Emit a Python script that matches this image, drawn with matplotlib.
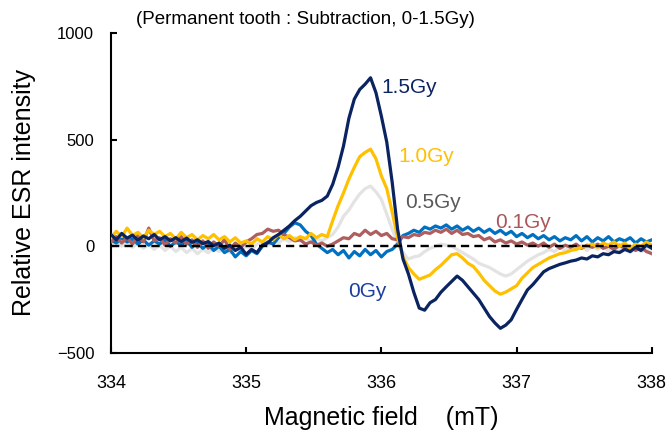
import numpy as np
import matplotlib
matplotlib.use("Agg")
import matplotlib.pyplot as plt

plt.rcParams['font.family'] = ['Liberation Sans', 'DejaVu Sans']

# Magnetic field sampling grid (mT), 0.04 mT steps
field_start, field_stop, n_points = 334.0, 338.0, 101
field = np.linspace(field_start, field_stop, n_points)

# Relative ESR intensity
gy_1_5 = [55, 30, 60, 38, 52, 28, 48, 35, 55, 30,
          45, 25, 40, 22, 38, 18, 30, 12, 22, 2,
          15, -10, 5, -20, -5, -38, -15, -30, 5, 15,
          40, 55, 75, 95, 120, 140, 165, 190, 205, 215,
          235, 290, 370, 470, 600, 690, 735, 760, 790, 720,
          610, 488, 300, 80, -60, -130, -216, -290, -300, -265,
          -250, -216, -190, -165, -140, -160, -190, -220, -250, -290,
          -330, -360, -385, -370, -345, -296, -250, -205, -180, -150,
          -120, -105, -95, -85, -78, -70, -65, -55, -60, -45,
          -50, -35, -40, -25, -30, -15, -25, -5, -20, 5, -10]

gy_1_0 = [40, 70, 45, 85, 50, 65, 40, 75, 55, 70,
          45, 60, 35, 65, 40, 55, 30, 50, 35, 55,
          30, 45, 20, 40, 15, 25, 10, 35, 20, 45,
          30, 55, 35, 50, 30, 45, 35, 60, 40, 55,
          45, 120, 190, 250, 315, 370, 420, 440, 455, 410,
          330, 270, 160, 40, -50, -100, -130, -155, -145, -135,
          -110, -90, -65, -40, -35, -55, -80, -95, -125, -160,
          -185, -210, -225, -215, -200, -185, -150, -125, -100, -85,
          -70, -55, -45, -35, -30, -20, -15, -5, 0, 10,
          -5, 15, 5, 20, 0, 15, -10, 10, 0, 20, 5]

gy_0_5 = [10, 25, 0, 20, -5, 15, -10, 10, -15, 5,
          -20, 0, -25, -5, -30, -10, -35, -15, -30, -10,
          -25, -5, -30, -10, -20, 0, -15, 10, 20, 5,
          30, 15, 35, 20, 40, 25, 40, 20, 35, 25,
          40, 55, 90, 140, 170, 210, 245, 270, 282, 255,
          220, 150, 80, 10, -30, -60, -50, -45, -25, -10,
          0, 10, 5, 0, -15, -30, -45, -60, -80, -90,
          -100, -115, -130, -140, -130, -110, -90, -70, -55, -40,
          -30, -15, -25, -5, -20, 0, -15, 5, -20, 0,
          -15, 5, -25, -5, -20, 0, -30, -10, -25, -15, -35]

gy_0_1 = [20, 45, 15, 40, 10, 50, 20, 85, 25, 40,
          5, 35, 15, 45, 10, 30, -5, 25, -10, 20,
          0, 30, -15, 15, -5, 20, 35, 55, 60, 80,
          70, 75, 55, 40, 25, 30, 10, 20, 5, 15,
          0, 10, 25, 40, 35, 60, 50, 75, 55, 70,
          50, 60, 35, 30, 45, 40, 55, 50, 65, 60,
          75, 65, 80, 60, 75, 55, 60, 45, 50, 30,
          40, 20, 30, 15, 25, 10, 20, 5, 15, 0,
          15, -5, 10, -10, 5, -5, 10, -10, 5, -5,
          10, -10, 0, -15, 5, -10, 0, -20, -5, -25, -35]

gy_0 = [30, 15, 40, 20, 35, 10, 30, 5, 25, 10,
        30, 0, 20, 5, 25, -5, 15, -10, 10, -20,
        0, -30, -15, -50, -25, -45, -20, -35, 0, 20,
        10, 40, 60, 90, 110, 100, 70, 50, 10, -10,
        -30, -15, -40, -20, -55, -25, -45, -15, -40, -20,
        -50, -25, -15, 10, 50, 60, 75, 65, 90, 80,
        95, 85, 100, 80, 95, 75, 90, 70, 85, 65,
        80, 60, 75, 55, 70, 45, 60, 40, 55, 35,
        50, 30, 45, 25, 40, 30, 50, 25, 45, 20,
        40, 25, 45, 20, 35, 25, 40, 15, 35, 20, 30]

labels = ["1.5Gy", "1.0Gy", "0.5Gy", "0.1Gy", "0Gy"]
x_ticks = [334, 335, 336, 337, 338]
y_ticks = [-500, 0, 500, 1000]
y_tick_labels = ["\u2212500", "0", "500", "1000"]

fig = plt.figure(figsize=(6.72, 4.34), dpi=100)
ax = fig.add_axes([0.165, 0.187, 0.805, 0.737])

lw = 2.3
ax.plot(field, gy_0_5, color="#E3E3E3", lw=lw, zorder=2)
ax.plot(field, gy_0, color="#0070C0", lw=lw, zorder=3)
ax.plot(field, gy_0_1, color="#AE5E5E", lw=lw, zorder=4)
ax.plot(field, gy_1_0, color="#FFC000", lw=lw, zorder=5)
ax.plot(field, gy_1_5, color="#0A2361", lw=lw, zorder=6)
ax.plot([field_start, field_stop], [0, 0], color="black", lw=1.7,
        ls=(0, (3.5, 2.2)), zorder=10)

ax.set_xlim(334, 338)
ax.set_ylim(-500, 1000)
ax.set_xticks(x_ticks)
ax.set_xticklabels([str(t) for t in x_ticks])
ax.set_yticks(y_ticks)
ax.set_yticklabels(y_tick_labels)
for s in ["top", "right"]:
    ax.spines[s].set_visible(False)
for s in ["left", "bottom"]:
    ax.spines[s].set_linewidth(1.5)
ax.tick_params(axis="both", direction="in", length=4, width=1.5)
ax.tick_params(axis="x", labelsize=13, pad=16, colors="black")
ax.tick_params(axis="y", labelsize=12, pad=12)

ax.set_xlabel("Magnetic field    (mT)", fontsize=18, labelpad=10)
ax.set_ylabel("Relative ESR intensity", fontsize=18, labelpad=15)

fig.text(0.454, 0.955, "(Permanent tooth : Subtraction, 0-1.5Gy)", ha="center",
         va="center", fontsize=13.5)

ann = [
    (labels[0], 336.0, 746, "#0A2361"),
    (labels[1], 336.126, 423, "#FFC000"),
    (labels[2], 336.178, 207, "#595959"),
    (labels[3], 336.844, 113, "#A9575A"),
    (labels[4], 335.756, -211, "#1A3FA0"),
]
for t, x, y, c in ann:
    ax.text(x, y, t, color=c, fontsize=15, ha="left", va="center", zorder=12)

fig.savefig("out.png", dpi=100)
